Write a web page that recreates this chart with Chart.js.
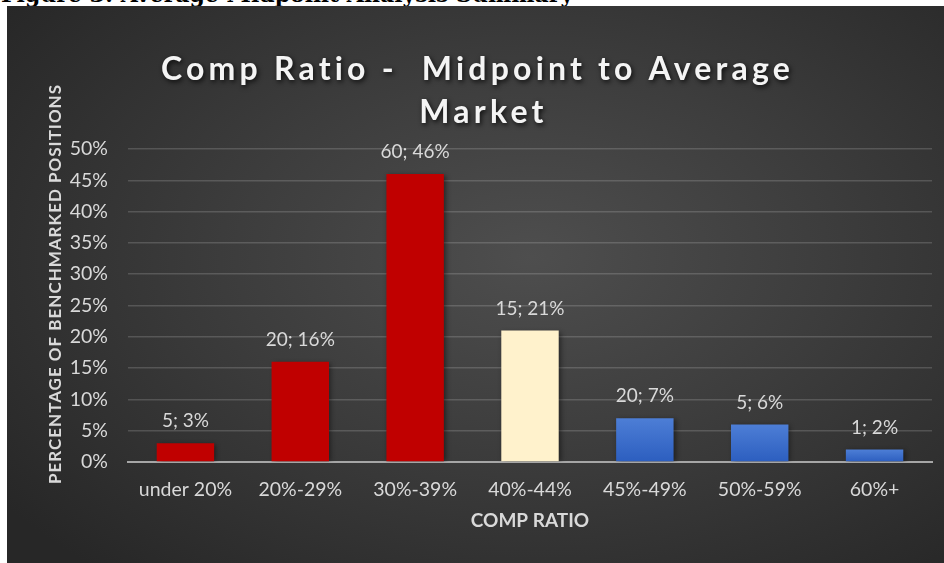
<!DOCTYPE html>
<html>
<head>
<meta charset="utf-8">
<script src="https://cdn.jsdelivr.net/npm/chart.js@4.4.1/dist/chart.umd.min.js"></script>
<style>
  html, body { margin: 0; padding: 0; background: #fff; width: 944px; height: 563px; overflow: hidden; }
  #caption { position: absolute; left: 1px; top: -17px; font: bold 22px "DejaVu Serif", serif; line-height: 22px; color: #000; white-space: nowrap; }
  #panel { position: absolute; left: 7px; top: 6px; width: 937px; height: 557px;
    background: radial-gradient(ellipse 70% 75% at 56% 45%, #4e4e4e 0%, #3d3d3d 45%, #272727 100%); }
  #chart1 { display: block; }
</style>
</head>
<body>
<div id="caption">Figure 3: Average Midpoint Analysis Summary</div>
<div id="panel"><canvas id="chart1" width="937" height="557"></canvas></div>
<script>
var categories = ['under 20%', '20%-29%', '30%-39%', '40%-44%', '45%-49%', '50%-59%', '60%+'];
var positionCounts = [5, 20, 60, 15, 20, 5, 1];
var positionPercents = [3, 16, 46, 21, 7, 6, 2];
var axisMax = 50;
var axisStep = 5;

var titleLines = ['Comp Ratio -  Midpoint to Average', 'Market'];
var yTitle = 'PERCENTAGE OF BENCHMARKED POSITIONS';
var xTitle = 'COMP RATIO';

var barColors = ['#C00000', '#C00000', '#C00000', '#FFF2CC', 'blue', 'blue', 'blue'];
var labelGray = '#d9d9d9';

function barFill(context) {
    var c = barColors[context.dataIndex];
    if (c !== 'blue') return c;
    var chart = context.chart;
    if (!chart.chartArea) return '#3b6cc8';
    var yScale = chart.scales.y;
    var top = yScale.getPixelForValue(context.raw);
    var bottom = yScale.getPixelForValue(0);
    var g = chart.ctx.createLinearGradient(0, top, 0, bottom);
    g.addColorStop(0, '#4d7ed6');
    g.addColorStop(1, '#2c5ebf');
    return g;
}

// heading and rotated y title, drawn with a soft shadow
var chartTexts = {
    id: 'chartTexts',
    afterDraw: function (chart) {
        var c = chart.ctx;
        c.save();
        c.font = 'bold 32px Lato';
        c.textAlign = 'center';
        c.textBaseline = 'alphabetic';
        c.letterSpacing = '4.2px';
        c.fillStyle = '#f4f4f4';
        c.shadowColor = 'rgba(0,0,0,0.8)';
        c.shadowBlur = 5;
        c.shadowOffsetX = 1.5;
        c.shadowOffsetY = 2;
        c.fillText(titleLines[0], chart.width / 2 + 2, 74);
        c.fillText(titleLines[1], chart.width / 2 + 8, 117);
        c.restore();

        c.save();
        c.translate(49, 278);
        c.rotate(-Math.PI / 2);
        c.font = 'bold 17px Lato';
        c.letterSpacing = '1px';
        c.textAlign = 'center';
        c.textBaseline = 'middle';
        c.fillStyle = labelGray;
        c.fillText(yTitle, 0, 0);
        c.restore();
    }
};

// bar shadow + "count; percent" labels above each bar
var barDecor = {
    id: 'barDecor',
    beforeDatasetsDraw: function (chart) {
        var c = chart.ctx;
        c.save();
        c.shadowColor = 'rgba(0,0,0,0.45)';
        c.shadowBlur = 5;
        c.shadowOffsetX = 2;
        c.shadowOffsetY = 1;
    },
    afterDatasetsDraw: function (chart) {
        var c = chart.ctx;
        c.restore();
        c.save();
        c.font = '19px Lato';
        c.fillStyle = labelGray;
        c.textAlign = 'center';
        c.textBaseline = 'middle';
        chart.getDatasetMeta(0).data.forEach(function (bar, i) {
            c.fillText(positionCounts[i] + '; ' + positionPercents[i] + '%', bar.x, bar.y - 22);
        });
        c.restore();
    }
};

var ctx = document.getElementById('chart1').getContext('2d');
var myChart1 = new Chart(ctx, {
    type: 'bar',
    data: {
        labels: categories,
        datasets: [{
            data: positionPercents,
            backgroundColor: barFill,
            borderWidth: 0,
            categoryPercentage: 1,
            barPercentage: 0.5
        }]
    },
    options: {
        responsive: false,
        animation: false,
        layout: { padding: { top: 143, right: 12, left: 0, bottom: 0 } },
        plugins: {
            legend: { display: false },
            tooltip: { enabled: false }
        },
        scales: {
            x: {
                afterFit: function (scale) { scale.height = 101; },
                grid: { display: false, drawTicks: false },
                border: { display: true, color: '#a6a6a6', width: 2 },
                ticks: { color: labelGray, font: { family: 'Lato', size: 19.5 }, padding: 16, maxRotation: 0 },
                title: {
                    display: true,
                    text: xTitle,
                    color: labelGray,
                    font: { family: 'Lato', size: 19, weight: 'bold' },
                    padding: { top: 0, bottom: 31 }
                }
            },
            y: {
                min: 0,
                max: axisMax,
                afterFit: function (scale) { scale.width = 121; },
                grid: { color: 'rgba(255,255,255,0.16)', lineWidth: 1.5, drawTicks: false },
                border: { display: false },
                ticks: {
                    stepSize: axisStep,
                    color: labelGray,
                    font: { family: 'Lato', size: 19.5 },
                    padding: 20,
                    callback: function (v) { return v + '%'; }
                }
            }
        }
    },
    plugins: [barDecor, chartTexts]
});
</script>
</body>
</html>
